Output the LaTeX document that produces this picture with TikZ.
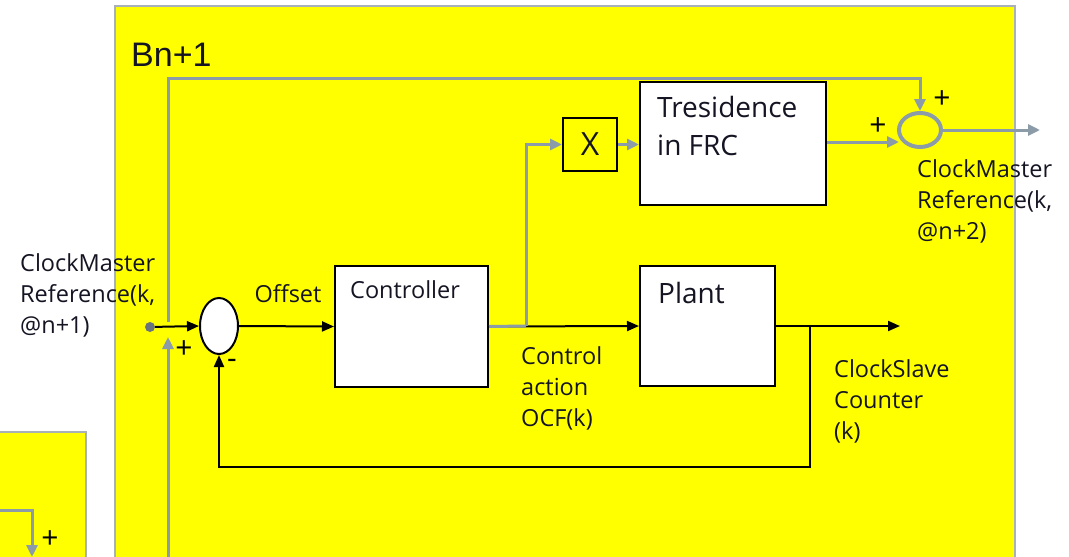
\documentclass[tikz,border=0pt]{standalone}
\usepackage{fontspec}
\setmainfont{Open Sans}
\newfontfamily\arialfont{Liberation Sans}
\usetikzlibrary{arrows.meta,shapes.geometric}
\definecolor{lgray}{RGB}{140,155,168}
\definecolor{bgray}{RGB}{168,176,184}
\definecolor{ink}{RGB}{20,20,35}
\definecolor{yel}{RGB}{255,255,0}
\begin{document}
\begin{tikzpicture}[x=1pt,y=-1pt,
  blk/.style={draw=black, line width=2pt, fill=white, inner sep=0pt},
  txt/.style={font=\fontsize{23.5}{31}\selectfont, text=ink, align=left, inner sep=0pt},
  bigtxt/.style={font=\fontsize{28}{38}\selectfont, text=ink, align=left, inner sep=0pt},
  sgn/.style={font=\fontsize{30}{30}\selectfont, text=black, inner sep=0pt},
  gl/.style={draw=lgray, line width=3pt},
  garr/.style={gl, -{Triangle[length=12pt,width=11pt]}},
  bl/.style={draw=black, line width=2pt},
  barr/.style={bl, -{Triangle[length=12pt,width=10pt]}},
  panel/.style={fill=yel, draw=bgray, line width=2.2pt}]
\useasboundingbox (0,0) rectangle (1069,557);
\fill[white] (0,0) rectangle (1069,557);
% panels
\path[panel] (-3,432) rectangle (86,562);
\path[panel] (115,6) rectangle (1015,562);
\node[font=\arialfont\fontsize{34}{36}\selectfont, text=ink, anchor=base west, inner sep=0pt] (bn) at (131,66) {Bn+1};
% left small panel arrow
\coordinate (sl) at (-3,510);
\coordinate (sb) at (32,557);
\draw[garr] (sl) -| (sb);
\node[sgn] (splus) at (50,540) {+};
% blocks
\node[blk, minimum width=153pt, minimum height=121pt] (ctrl) at (411.5,326.5) {};
\node[blk, minimum width=135pt, minimum height=120pt] (plant) at (707.5,326) {};
\node[blk, minimum width=186pt, minimum height=123pt] (tres) at (733,143.5) {};
\node[draw=black, line width=2pt, fill=yel, minimum width=54pt, minimum height=53pt, inner sep=0pt,
      font=\fontsize{32}{32}\selectfont, text=ink] (xb) at (590,144.5) {X};
\node[ellipse, draw=black, line width=2pt, fill=white, minimum width=38pt, minimum height=56pt, inner sep=0pt] (sum) at (219,326) {};
\node[ellipse, draw=lgray, line width=4pt, minimum width=42pt, minimum height=34pt, inner sep=0pt] (out) at (920,130) {};
\node[circle, fill=lgray!75!black, minimum size=10pt, inner sep=0pt] (dot) at (150,327) {};
% block texts
\node[txt, anchor=base west] (tctrl) at (350,298) {Controller};
\node[bigtxt, anchor=base west] (tplant) at (658,303) {Plant};
\node[bigtxt, anchor=base west] (ttres) at (657,155) {Tresidence\\in FRC};
% coordinates
\coordinate (j1) at (526,326);
\coordinate (g1) at (168,322);
\coordinate (gt) at (168,78);
\coordinate (gb) at (168,560);
\coordinate (g2) at (168,337);
\coordinate (oin) at (899,142);
\coordinate (oout) at (1040,130);
\coordinate (pout) at (900,326);
\coordinate (fb) at (810,326);
\coordinate (fbb) at (810,467);
% black connectors
\draw[barr] (dot) -- (sum.west);
\draw[barr] (sum.east) -- (ctrl.west);
\draw[barr] (ctrl.east) -- (plant.west);
\draw[barr] (plant.east) -- (pout);
\draw[barr] (fb) -- (fbb) -| (sum.south);
% gray connectors
\draw[gl] (ctrl.east) -- (j1);
\draw[garr] (j1) |- (xb.west);
\draw[garr] (xb.east) -- (tres.west |- xb.east);
\draw[garr] (tres.east |- oin) -- (oin);
\draw[garr] (out.east) -- (oout);
\draw[garr] (g1) -- (gt) -| (out.north);
\draw[garr] (gb) -- (g2);
% signs
\node[sgn] (p1) at (184,350) {+};
\node[sgn] (m1) at (232,364) {-};
\node[sgn] (p2) at (942,100) {+};
\node[sgn] (p3) at (878,127) {+};
% labels
\node[txt] (loff) at (288,294) {Offset};
\node[txt, anchor=base west] (lin) at (20,333) {ClockMaster\\Reference(k,\\@n+1)};
\node[txt, anchor=base west] (lout) at (917,239) {ClockMaster\\Reference(k,\\@n+2)};
\node[txt, anchor=base west] (lca) at (521,426) {Control\\action\\OCF(k)};
\node[txt, anchor=base west] (lcs) at (834,439) {ClockSlave\\Counter\\(k)};
\end{tikzpicture}
\end{document}
